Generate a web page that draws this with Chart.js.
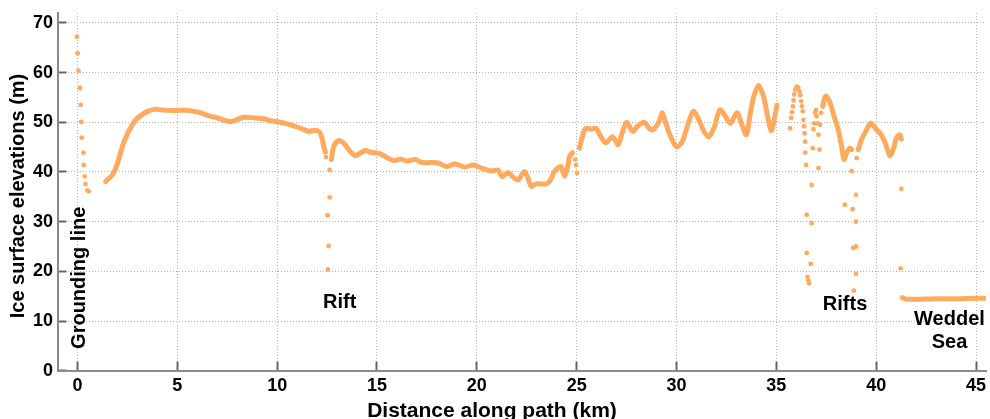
<!DOCTYPE html>
<html>
<head>
<meta charset="utf-8">
<title>Ice surface elevations</title>
<script src="https://cdn.jsdelivr.net/npm/chart.js@4/dist/chart.umd.min.js"></script>
<style>
  html, body { margin: 0; padding: 0; background: #fff; }
</style>
</head>
<body>
<canvas id="iceChart" width="990" height="419"></canvas>
<script>
// === DATA (km along path, m elevation) ===
const xTicks = [0, 5, 10, 15, 20, 25, 30, 35, 40, 45];
const yTicks = [0, 10, 20, 30, 40, 50, 60, 70];

// grounding line drop (sparse dots)
const groundX = [-0.03, 0.01, 0.05, 0.13, 0.16, 0.18, 0.21, 0.30, 0.31, 0.36, 0.40, 0.50, 0.56];
const groundY = [67.2, 63.9, 60.4, 56.9, 53.5, 50.1, 46.9, 43.9, 41.4, 39.1, 37.6, 36.3, 36.1];

// continuous stretches of the profile
const seg1X = [1.41, 1.78, 2.03, 2.28, 2.52, 2.86, 3.19, 3.52, 3.86, 4.19, 4.52, 5.02, 5.52, 5.85, 6.18, 6.6, 7.01, 7.43, 7.76, 8.01, 8.34, 8.84, 9.34, 9.68, 10.17, 10.67, 11.17, 11.59, 11.92, 12.13, 12.25, 12.33, 12.42];
const seg1Y = [38.1, 39.6, 42.1, 45.5, 47.8, 50.2, 51.4, 52.2, 52.6, 52.5, 52.4, 52.4, 52.4, 52.2, 51.9, 51.3, 50.9, 50.3, 50.2, 50.6, 51.0, 50.9, 50.7, 50.3, 50.0, 49.5, 48.8, 48.2, 48.4, 48.0, 46.8, 45.1, 44.0];

const seg2X = [12.72, 12.83, 13.08, 13.33, 13.58, 13.91, 14.16, 14.41, 14.74, 15.08, 15.41, 15.83, 16.16, 16.49, 16.91, 17.24, 17.74, 18.07, 18.48, 18.9, 19.4, 19.82, 20.23, 20.73, 21.06, 21.28, 21.56, 21.81, 22.06, 22.39, 22.56, 22.73, 22.97, 23.47, 23.64, 23.89, 24.06, 24.22, 24.39, 24.55, 24.64, 24.8];
const seg2Y = [42.5, 45.1, 46.3, 45.8, 44.5, 43.3, 43.8, 44.3, 43.9, 43.8, 43.1, 42.3, 42.6, 42.2, 42.5, 41.9, 41.9, 41.8, 41.1, 41.6, 41.0, 41.4, 40.8, 40.2, 40.4, 39.1, 39.9, 39.0, 38.4, 40.1, 38.8, 37.1, 37.6, 37.6, 38.1, 40.1, 40.8, 41.1, 39.2, 41.1, 43.1, 43.9];

const seg3X = [25.14, 25.22, 25.33, 25.47, 25.72, 25.97, 26.21, 26.46, 26.8, 27.08, 27.3, 27.51, 27.8, 28.04, 28.38, 28.63, 28.84, 29.13, 29.29, 29.46, 29.71, 30.0, 30.29, 30.54, 30.84, 31.12, 31.37, 31.62, 31.87, 32.17, 32.45, 32.7, 33.03, 33.25, 33.5, 33.7, 33.87, 34.11, 34.36, 34.56, 34.74, 34.89, 35.03];
const seg3Y = [44.8, 46.1, 47.8, 48.8, 48.6, 48.8, 47.1, 45.9, 47.1, 45.5, 48.2, 50.0, 48.2, 49.2, 50.0, 48.8, 48.5, 50.2, 51.9, 49.8, 47.1, 45.1, 46.1, 49.2, 52.2, 50.5, 48.2, 47.1, 48.8, 52.5, 51.2, 49.8, 51.9, 49.8, 47.5, 51.9, 55.2, 57.4, 55.2, 51.2, 48.3, 50.5, 53.5];

const seg4X = [37.32, 37.39, 37.49, 37.69, 37.89, 38.1, 38.27, 38.39, 38.52, 38.68, 38.77];
const seg4Y = [53.2, 54.5, 55.3, 53.9, 51.2, 48.5, 45.1, 42.5, 43.8, 44.8, 44.5];

const seg5X = [39.1, 39.26, 39.52, 39.72, 40.02, 40.26, 40.48, 40.68, 40.85, 41.01, 41.18, 41.26];
const seg5Y = [44.5, 46.5, 48.5, 49.8, 48.5, 47.5, 45.5, 43.3, 44.5, 46.8, 47.5, 46.6];

// Weddell Sea surface
const seaX = [41.31, 41.51, 42.0, 43.0, 44.0, 45.0, 45.5];
const seaY = [14.7, 14.4, 14.4, 14.5, 14.5, 14.6, 14.6];

// scattered returns inside the rifts
const riftX = [12.45, 12.63, 12.63, 12.52, 12.58, 12.54, 24.92, 24.97, 25.02,
  35.69, 35.74, 35.78, 35.83, 35.86, 35.89, 35.95, 36.02, 36.09, 36.16, 36.2, 36.24, 36.28, 36.32, 36.36, 36.39, 36.41, 36.44, 36.44, 36.49,
  36.52, 36.52, 36.56, 36.6, 36.64, 36.72, 36.77, 36.77,
  36.82, 36.86, 36.89, 36.94, 36.99, 37.02, 37.07, 37.11, 37.16, 37.11, 37.19, 37.24,
  38.77, 38.43, 38.82, 38.99, 38.99, 38.85, 38.99, 38.99, 38.88, 39.02,
  41.26, 41.23];
const riftY = [43.0, 40.4, 34.9, 31.3, 25.1, 20.4, 42.5, 41.4, 39.8,
  48.8, 50.9, 52.0, 53.2, 54.4, 55.6, 56.6, 57.2, 57.0, 56.2, 55.4, 54.2, 53.2, 52.2, 50.5, 49.2, 47.8, 46.1, 43.9, 41.4,
  31.4, 23.7, 18.9, 18.2, 17.6, 21.5, 29.7, 37.4,
  44.8, 48.6, 49.8, 51.9, 52.5, 51.2, 49.8, 47.5, 44.5, 40.8, 49.5, 51.9,
  40.2, 33.4, 32.5, 35.4, 30.0, 24.7, 25.0, 19.5, 16.1, 42.8,
  36.6, 20.6];

// === Labels on the plot ===
const notes = [
  { text: 'Grounding line', x: 0.11, y: 18.7, rotate: true },
  { text: 'Rift', x: 13.13, y: 13.8 },
  { text: 'Rifts', x: 38.44, y: 13.3 },
  { text: 'Weddel', x: 43.67, y: 10.4 },
  { text: 'Sea', x: 43.67, y: 5.7 }
];

const dotColor = '#ffaa5e';
const FONT = '"Liberation Sans", Arial, Helvetica, sans-serif';

function toPoints(xs, ys) {
  return xs.map((x, i) => ({ x: x, y: ys[i] }));
}

const lineSegments = [[seg1X, seg1Y], [seg2X, seg2Y], [seg3X, seg3Y], [seg4X, seg4Y], [seg5X, seg5Y], [seaX, seaY]];

const datasets = lineSegments.map(([xs, ys]) => ({
  data: toPoints(xs, ys),
  showLine: true,
  borderColor: dotColor,
  backgroundColor: dotColor,
  borderWidth: 5,
  borderCapStyle: 'round',
  borderJoinStyle: 'round',
  tension: 0.3,
  pointRadius: 0
}));

datasets.push({
  data: toPoints(groundX, groundY).concat(toPoints(riftX, riftY)),
  showLine: false,
  backgroundColor: dotColor,
  borderWidth: 0,
  pointRadius: 2.4
});

// === text plugin: annotations + axis titles ===
const textPlugin = {
  id: 'textNotes',
  afterDraw(chart) {
    const { ctx, scales: { x, y } } = chart;
    ctx.save();
    ctx.fillStyle = '#000';
    ctx.textAlign = 'center';
    ctx.textBaseline = 'middle';
    ctx.font = 'bold 20px ' + FONT;
    notes.forEach(n => {
      const px = x.getPixelForValue(n.x);
      const py = y.getPixelForValue(n.y);
      if (n.rotate) {
        ctx.save();
        ctx.translate(px, py);
        ctx.rotate(-Math.PI / 2);
        ctx.fillText(n.text, 0, 0);
        ctx.restore();
      } else {
        ctx.fillText(n.text, px, py);
      }
    });

    ctx.font = 'bold 21px ' + FONT;
    ctx.fillText('Distance along path (km)', 492, 411);
    ctx.font = 'bold 20px ' + FONT;
    ctx.translate(18.5, 196);
    ctx.rotate(-Math.PI / 2);
    ctx.fillText('Ice surface elevations (m)', 0, 0);
    ctx.restore();
  }
};

const ctx = document.getElementById('iceChart').getContext('2d');
const iceChart = new Chart(ctx, {
  type: 'scatter',
  data: { datasets: datasets },
  options: {
    responsive: false,
    animation: false,
    devicePixelRatio: 1,
    layout: { padding: { top: 13, right: 0, bottom: 0, left: 0 } },
    plugins: { legend: { display: false }, tooltip: { enabled: false } },
    scales: {
      x: {
        type: 'linear',
        min: -1,
        max: 45.5,
        afterBuildTicks: (scale) => { scale.ticks = xTicks.map(v => ({ value: v })); },
        afterFit: (scale) => { scale.height = 48.3; scale.paddingLeft = 0; scale.paddingRight = 0; },
        grid: { color: '#b4b4b4', lineWidth: 1, drawTicks: true, tickLength: -9, tickColor: '#666', tickWidth: 2 },
        border: { display: true, color: '#8c8c8c', width: 2, dash: [1, 2] },
        ticks: { color: '#000', padding: 14, maxRotation: 0, font: { family: FONT, size: 18, weight: 'bold' } }
      },
      y: {
        type: 'linear',
        min: 0,
        max: 72,
        afterBuildTicks: (scale) => { scale.ticks = yTicks.map(v => ({ value: v })); },
        afterFit: (scale) => { scale.width = 57.5; scale.paddingTop = 0; scale.paddingBottom = 0; },
        grid: { color: '#b4b4b4', lineWidth: 1, drawTicks: true, tickLength: -9, tickColor: '#666', tickWidth: 2 },
        border: { display: true, color: '#8c8c8c', width: 2, dash: [1, 2] },
        ticks: { color: '#000', padding: 13.5, font: { family: FONT, size: 18, weight: 'bold' } }
      }
    }
  },
  plugins: [textPlugin]
});
</script>
</body>
</html>
